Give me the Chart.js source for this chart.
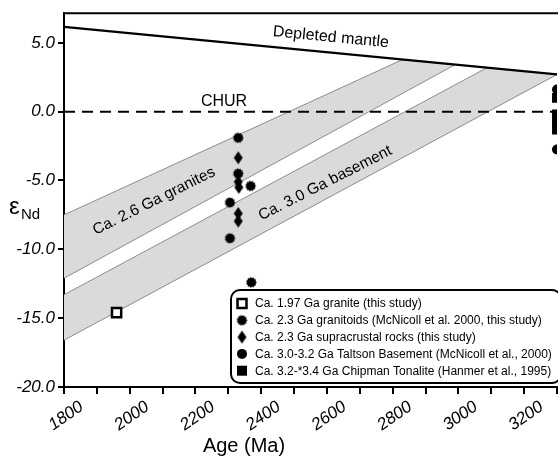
<!DOCTYPE html>
<html>
<head>
<meta charset="utf-8">
<script src="https://cdn.jsdelivr.net/npm/chart.js@4.4.0/dist/chart.umd.min.js"></script>
<style>
    body { margin: 0; background: #fff; }
    canvas { display: block; }
</style>
</head>
<body>
<canvas id="myChart" width="558" height="458"></canvas>
<script>
const FONT = "'Liberation Sans', Arial, sans-serif";

// axis ticks
const xTicks = [1800, 1900, 2000, 2100, 2200, 2300, 2400, 2500, 2600, 2700, 2800, 2900, 3000, 3100, 3200, 3300];
const xTickLabels = [1800, 2000, 2200, 2400, 2600, 2800, 3000, 3200];
const yTicks = [-20, -15, -10, -5, 0, 5];

// reference curves
const mantleAge = [1800, 3300];
const mantleEps = [6.15, 2.7];
const churAge = [1800, 3300];
const churEps = [0, 0];

// evolution bands (closed outlines)
const granites26Age = [1800, 2830, 2990, 1800];
const granites26Eps = [-7.5, 3.78, 3.41, -12.1];
const basement30Age = [1800, 3087, 3300, 1800];
const basement30Eps = [-13.3, 3.19, 2.7, -16.6];

// samples
const granite197Age = [1960];
const granite197Eps = [-14.6];
const granitoidAge = [2330, 2330, 2368, 2305, 2305, 2370];
const granitoidEps = [-1.9, -4.5, -5.4, -6.6, -9.2, -12.4];
const supraAge = [2330, 2330, 2332, 2330, 2330];
const supraEps = [-3.35, -5.1, -5.5, -7.4, -7.95];
const taltsonAge = [3300, 3300];
const taltsonEps = [1.6, -2.75];
const chipmanAge = [3300, 3300, 3300, 3300];
const chipmanEps = [1.0, -0.2, -0.8, -1.3];

const legendLabels = [
    'Ca. 1.97 Ga granite (this study)',
    'Ca. 2.3 Ga granitoids (McNicoll et al. 2000, this study)',
    'Ca. 2.3 Ga supracrustal rocks (this study)',
    'Ca. 3.0-3.2 Ga Taltson Basement (McNicoll et al., 2000)',
    'Ca. 3.2-*3.4 Ga Chipman Tonalite (Hanmer et al., 1995)'
];

const toXY = (xs, ys) => xs.map((x, i) => ({ x: x, y: ys[i] }));

function makeBurst(r) {
    const c = document.createElement('canvas');
    const s = Math.ceil(r * 2 + 2);
    c.width = s;
    c.height = s;
    const g = c.getContext('2d');
    g.beginPath();
    const n = 11;
    for (let i = 0; i < n * 2; i++) {
        const rr = i % 2 ? r * 0.8 : r;
        const a = Math.PI * i / n;
        g.lineTo(s / 2 + rr * Math.cos(a), s / 2 + rr * Math.sin(a));
    }
    g.closePath();
    g.fillStyle = '#000';
    g.fill();
    return c;
}

function makeDiamond(w, h) {
    const c = document.createElement('canvas');
    c.width = w + 2;
    c.height = h + 2;
    const g = c.getContext('2d');
    g.beginPath();
    g.moveTo(c.width / 2, 1);
    g.lineTo(c.width - 1, c.height / 2);
    g.lineTo(c.width / 2, c.height - 1);
    g.lineTo(1, c.height / 2);
    g.closePath();
    g.fillStyle = '#000';
    g.fill();
    return c;
}

const burstImg = makeBurst(5.5);
const diamondImg = makeDiamond(9, 13);

function bandDataset(xs, ys) {
    return {
        data: toXY(xs, ys),
        showLine: true,
        fill: 'shape',
        backgroundColor: '#dadada',
        borderColor: '#8c8c8c',
        borderWidth: 1,
        pointRadius: 0,
        tension: 0,
        order: 3
    };
}

const annotations = [
    { text: 'Depleted mantle', x: 2612, y: 5.4, angle: 5.5, size: 16 },
    { text: 'CHUR', x: 2287, y: 0.76, angle: 0, size: 16 },
    { text: 'Ca. 2.6 Ga granites', x: 2074, y: -6.5, angle: -26.5, size: 15.5 },
    { text: 'Ca. 3.0 Ga basement', x: 2595, y: -5.2, angle: -27, size: 15.5 }
];

const extras = {
    id: 'extras',
    afterDraw(chart) {
        const ctx = chart.ctx;
        const area = chart.chartArea;
        const xs = chart.scales.x;
        const ys = chart.scales.y;
        ctx.save();
        ctx.fillStyle = '#000';
        ctx.strokeStyle = '#000';

        // top frame
        ctx.lineWidth = 2;
        ctx.beginPath();
        ctx.moveTo(area.left, area.top);
        ctx.lineTo(chart.width, area.top);
        ctx.stroke();

        // x tick labels, rotated and centred on tick
        ctx.font = 'italic 17px ' + FONT;
        ctx.textAlign = 'center';
        ctx.textBaseline = 'middle';
        for (const v of xTickLabels) {
            ctx.save();
            ctx.translate(xs.getPixelForValue(v) + 2, area.bottom + 29);
            ctx.rotate(-35 * Math.PI / 180);
            ctx.fillText(String(v), 0, 0);
            ctx.restore();
        }

        // axis titles
        ctx.font = '20px ' + FONT;
        ctx.fillText('Age (Ma)', 244, 446);
        ctx.textAlign = 'left';
        ctx.textBaseline = 'alphabetic';
        ctx.font = '24px ' + FONT;
        ctx.fillText('\u03b5', 9, 214);
        ctx.font = '15px ' + FONT;
        ctx.fillText('Nd', 21, 219);

        // in-plot labels
        ctx.textAlign = 'center';
        ctx.textBaseline = 'middle';
        for (const a of annotations) {
            ctx.save();
            ctx.font = a.size + 'px ' + FONT;
            ctx.translate(xs.getPixelForValue(a.x), ys.getPixelForValue(a.y));
            ctx.rotate(a.angle * Math.PI / 180);
            ctx.fillText(a.text, 0, 0);
            ctx.restore();
        }

        // legend box
        const bx = 231, by = 290, bw = 330, bh = 93, r = 9;
        ctx.beginPath();
        ctx.moveTo(bx + r, by);
        ctx.arcTo(bx + bw, by, bx + bw, by + bh, r);
        ctx.arcTo(bx + bw, by + bh, bx, by + bh, r);
        ctx.arcTo(bx, by + bh, bx, by, r);
        ctx.arcTo(bx, by, bx + bw, by, r);
        ctx.closePath();
        ctx.fillStyle = '#fff';
        ctx.fill();
        ctx.lineWidth = 2;
        ctx.stroke();

        ctx.fillStyle = '#000';
        ctx.font = '12px ' + FONT;
        ctx.textAlign = 'left';
        legendLabels.forEach((label, i) => {
            const cy = 303.5 + i * 16.8;
            const mx = 242;
            if (i === 0) {
                ctx.lineWidth = 2.5;
                ctx.fillStyle = '#fff';
                ctx.fillRect(mx - 4.5, cy - 4.5, 9, 9);
                ctx.strokeRect(mx - 4.5, cy - 4.5, 9, 9);
                ctx.fillStyle = '#000';
            } else if (i === 1) {
                ctx.drawImage(burstImg, mx - burstImg.width / 2, cy - burstImg.height / 2);
            } else if (i === 2) {
                ctx.drawImage(diamondImg, mx - diamondImg.width / 2, cy - diamondImg.height / 2);
            } else if (i === 3) {
                ctx.beginPath();
                ctx.arc(mx, cy, 5, 0, Math.PI * 2);
                ctx.fill();
            } else {
                ctx.fillRect(mx - 5, cy - 5, 10, 10);
            }
            ctx.fillText(label, 255, cy + 0.5);
        });
        ctx.restore();
    }
};

const axisGrid = {
    display: true,
    drawOnChartArea: false,
    drawTicks: true,
    tickLength: 6,
    color: '#000',
    lineWidth: 2
};

const ctx = document.getElementById('myChart').getContext('2d');

const chart = new Chart(ctx, {
    type: 'scatter',
    data: {
        datasets: [
            {
                data: toXY(granite197Age, granite197Eps),
                pointStyle: 'rect',
                pointRadius: 6.5,
                backgroundColor: '#fff',
                borderColor: '#000',
                borderWidth: 2.5,
                order: 0
            },
            {
                data: toXY(granitoidAge, granitoidEps),
                pointStyle: burstImg,
                pointRadius: 6,
                order: 0
            },
            {
                data: toXY(supraAge, supraEps),
                pointStyle: diamondImg,
                pointRadius: 6,
                order: 0
            },
            {
                data: toXY(taltsonAge, taltsonEps),
                pointStyle: 'circle',
                pointRadius: 5,
                backgroundColor: '#000',
                borderColor: '#000',
                borderWidth: 0,
                clip: 0,
                order: 0
            },
            {
                data: toXY(chipmanAge, chipmanEps),
                pointStyle: 'rect',
                pointRadius: 7,
                backgroundColor: '#000',
                borderColor: '#000',
                borderWidth: 0,
                clip: 0,
                order: 0
            },
            {
                data: toXY(mantleAge, mantleEps),
                showLine: true,
                borderColor: '#000',
                borderWidth: 2.2,
                pointRadius: 0,
                order: 1
            },
            {
                data: toXY(churAge, churEps),
                showLine: true,
                borderColor: '#000',
                borderWidth: 2,
                borderDash: [11, 7],
                pointRadius: 0,
                order: 1
            },
            bandDataset(granites26Age, granites26Eps),
            bandDataset(basement30Age, basement30Eps)
        ]
    },
    options: {
        responsive: false,
        animation: false,
        layout: {
            autoPadding: false,
            padding: { top: 12, right: 1, left: 0, bottom: 0 }
        },
        plugins: {
            legend: { display: false },
            tooltip: { enabled: false }
        },
        scales: {
            x: {
                type: 'linear',
                min: 1800,
                max: 3300,
                afterBuildTicks: (s) => { s.ticks = xTicks.map(v => ({ value: v })); },
                afterFit: (s) => { s.height = 71; },
                ticks: { display: false },
                grid: Object.assign({}, axisGrid, { tickLength: 7 }),
                border: { display: true, color: '#000', width: 2 }
            },
            y: {
                min: -20,
                max: 7.15,
                afterBuildTicks: (s) => { s.ticks = yTicks.map(v => ({ value: v })); },
                afterFit: (s) => { s.width = 64; },
                ticks: {
                    color: '#000',
                    padding: 3,
                    font: { family: FONT, size: 17, style: 'italic' },
                    callback: (v) => Number(v).toFixed(1)
                },
                grid: axisGrid,
                border: { display: true, color: '#000', width: 2 }
            }
        }
    },
    plugins: [extras]
});
</script>
</body>
</html>
